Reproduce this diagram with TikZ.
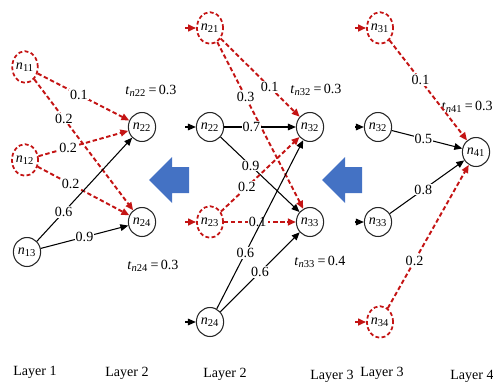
\documentclass[tikz,border=0pt]{standalone}
\usepackage{fontspec}
\setmainfont{Liberation Serif}
\usetikzlibrary{arrows.meta,shapes.geometric}
\definecolor{linkred}{RGB}{196,20,20}
\definecolor{arrowblue}{RGB}{68,114,196}
\def\nn#1{\textit{n}\textsubscript{#1}}
\def\tn#1#2{\textit{t}\textsubscript{\textit{n}#1}\,=\,#2}
\def\blockarrow(#1,#2){\fill[arrowblue] (#1,#2) -- ++(23,-23) -- ++(0,10) -- ++(17,0) -- ++(0,26) -- ++(-17,0) -- ++(0,10) -- cycle;}

\tikzset{
  every node/.style={font=\fontsize{8}{10}\selectfont},
  act/.style={draw=black!85, line width=0.6pt, ellipse, inner sep=0pt, minimum width=15.5pt, minimum height=16.5pt},
  inact/.style={draw=linkred, line width=1pt, dash pattern=on 2.2pt off 1.4pt, ellipse, inner sep=0pt, minimum width=13.5pt, minimum height=18pt},
  blacklink/.style={draw=black, line width=0.6pt, -{Triangle[length=4.5pt,width=3.8pt]}},
  redlink/.style={draw=linkred, line width=1.1pt, dash pattern=on 2.5pt off 1.5pt, -{Triangle[length=4.5pt,width=3.8pt]}},
  weight/.style={fill=white, inner sep=0.6pt},
  thr/.style={inner sep=0pt},
}

\begin{document}
\begin{tikzpicture}[x=0.02cm, y=-0.02cm]
			%%%%% START %%%%%
			\useasboundingbox (0,0) rectangle (493,385);
			
			% layer 1 -> layer 2
			\node[inact] (n11) at (25,67) {\nn{11}};
			\node[inact] (n12) at (25,160) {\nn{12}};
			\node[act] (n13) at (27,252) {\nn{13}};
			\node[act] (a22) at (142,127) {\nn{22}};
			\node[act] (a24) at (142,222) {\nn{24}};
			\node[thr] (ta22) at (151,91) {\tn{22}{0.3}};
			\node[thr] (ta24) at (153,266) {\tn{24}{0.3}};
			
			\draw[redlink] (n11) -- node[weight,pos=0.45]{0.1} (a22);
			\draw[redlink] (n11) -- node[weight,pos=0.3]{0.2} (a24);
			\draw[redlink] (n12) -- node[weight,pos=0.33]{0.2} (a22);
			\draw[redlink] (n12) -- node[weight,pos=0.36]{0.2} (a24);
			\draw[blacklink] (n13) -- node[weight,pos=0.28]{0.6} (a22);
			\draw[blacklink] (n13) -- node[weight,pos=0.5]{0.9} (a24);
			
			\blockarrow(149,180)
			
			% layer 2 -> layer 3
			\node[inact] (n21) at (210,28) {\nn{21}};
			\node[act] (b22) at (210,127) {\nn{22}};
			\node[inact] (n23) at (210,222) {\nn{23}};
			\node[act] (b24) at (210,322) {\nn{24}};
			\node[act] (b32) at (310,127) {\nn{32}};
			\node[act] (b33) at (310,222) {\nn{33}};
			\node[thr] (tb32) at (316,90) {\tn{32}{0.3}};
			\node[thr] (tb33) at (320,262) {\tn{33}{0.4}};
			
			\coordinate (in21) at (185,28);
			\coordinate (in22) at (185,127);
			\coordinate (in23) at (185,222);
			\coordinate (in24) at (185,322);
			\draw[redlink] (in21) -- (n21);
			\draw[blacklink] (in22) -- (b22);
			\draw[redlink] (in23) -- (n23);
			\draw[blacklink] (in24) -- (b24);
			
			\draw[redlink] (n21) -- node[weight,pos=0.62]{0.1} (b32);
			\draw[redlink] (n21) -- node[weight,pos=0.33]{0.3} (b33);
			\draw[blacklink] (b22) -- node[weight,pos=0.38]{0.7} (b32);
			\draw[blacklink] (b22) -- node[weight,pos=0.38]{0.9} (b33);
			\draw[redlink] (n23) -- node[weight,pos=0.33]{0.2} (b32);
			\draw[redlink] (n23) -- node[weight,pos=0.47]{0.1} (b33);
			\draw[blacklink] (b24) -- node[weight,pos=0.33]{0.6} (b32);
			\draw[blacklink] (b24) -- node[weight,pos=0.5]{0.6} (b33);
			
			\blockarrow(322,180)
			
			% layer 3 -> layer 4
			\node[inact] (n31) at (380,28) {\nn{31}};
			\node[act] (c32) at (378,127) {\nn{32}};
			\node[act] (c33) at (378,222) {\nn{33}};
			\node[inact] (n34) at (380,322) {\nn{34}};
			\node[act] (n41) at (476,152) {\nn{41}};
			\node[thr, anchor=east] (t41) at (493,107) {\tn{41}{0.3}};
			
			\coordinate (in31) at (355,28);
			\coordinate (in32) at (355,127);
			\coordinate (in33) at (355,222);
			\coordinate (in34) at (355,322);
			\draw[redlink] (in31) -- (n31);
			\draw[blacklink] (in32) -- (c32);
			\draw[blacklink] (in33) -- (c33);
			\draw[redlink] (in34) -- (n34);
			
			\draw[redlink] (n31) -- node[weight,pos=0.4]{0.1} (n41);
			\draw[blacklink] (c32) -- node[weight,pos=0.45]{0.5} (n41);
			\draw[blacklink] (c33) -- node[weight,pos=0.45]{0.8} (n41);
			\draw[redlink] (n34) -- node[weight,pos=0.33]{0.2} (n41);
			
			% layer names
			\node (l1) at (35,372) {Layer 1};
			\node (l2a) at (127,373) {Layer 2};
			\node (l2b) at (225,374) {Layer 2};
			\node (l3a) at (332,376) {Layer 3};
			\node (l3b) at (382,373) {Layer 3};
			\node (l4) at (472,376) {Layer 4};
			
			%%%%% END %%%%%
		\end{tikzpicture}
\end{document}
